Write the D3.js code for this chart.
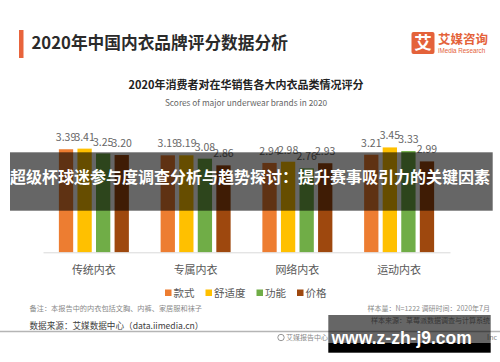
<!DOCTYPE html>
<html>
<head>
<meta charset="utf-8">
<script src="https://cdn.jsdelivr.net/npm/d3@7"></script>
<style>
html,body{margin:0;padding:0;background:#fff;}
svg{display:block;font-family:"Noto Sans CJK SC","Noto Sans",sans-serif;}
</style>
</head>
<body>
<svg id="chart" width="500" height="362"></svg>
<script>
const categories = ["传统内衣", "专属内衣", "网络内衣", "运动内衣"];
const seriesNames = ["款式", "舒适度", "功能", "价格"];
const seriesColors = ["#ed7d31", "#ffc000", "#70ad47", "#9e480e"];
const styleScores   = [3.39, 3.19, 2.94, 3.21];
const comfortScores = [3.41, 3.19, 2.98, 3.45];
const functionScores= [3.25, 3.08, 2.76, 3.33];
const priceScores   = [3.20, 2.86, 2.93, 2.99];
const seriesValues = [styleScores, comfortScores, functionScores, priceScores];

const pageTitle = "2020年中国内衣品牌评分数据分析";
const chartTitle = "2020年消费者对在华销售各大内衣品类情况评分";
const chartSubtitle = "Scores of major underwear brands in 2020";
const bannerText = "超级杯球迷参与度调查分析与趋势探讨：提升赛事吸引力的关键因素";
const noteText = "备注：本报告中的内衣包括文胸、内裤、家居服和袜子";
const sourceText = "数据来源：艾媒数据中心（data.iimedia.cn）";
const sampleText = "样本量：N=1222    调研时间：2020年7月";
const sampleSourceText = "样本来源：草莓派数据调查与计算系统";
const copyrightLeft = "艾媒报告中心";
const copyrightRight = "Inc";
const watermarkText = "www.z-zh-j9.com";

const svg = d3.select("#chart");

// header
svg.append("rect").attr("x", 19).attr("y", 30).attr("width", 4.5).attr("height", 28).attr("fill", "#e8643c");
svg.append("text").attr("x", 31.5).attr("y", 49).attr("font-size", 16.7).attr("font-weight", "bold")
  .attr("fill", "#2b2b2b").text(pageTitle);

// logo
svg.append("rect").attr("x", 411.5).attr("y", 32).attr("width", 23).attr("height", 22).attr("rx", 2).attr("fill", "#e4623a");
svg.append("text").attr("x", 423).attr("y", 49).attr("text-anchor", "middle").attr("font-size", 17.5)
  .attr("font-weight", "bold").attr("fill", "#fff").text("艾");
svg.append("text").attr("x", 438).attr("y", 44).attr("font-size", 12.5).attr("font-weight", "bold")
  .attr("fill", "#e4623a").text("艾媒咨询");
svg.append("text").attr("x", 438).attr("y", 53).attr("font-size", 6.3)
  .attr("fill", "#e4623a").attr("font-family", "Liberation Sans, sans-serif").text("iMedia Research");

// chart titles
svg.append("text").attr("x", 246).attr("y", 89).attr("text-anchor", "middle").attr("font-size", 11)
  .attr("font-weight", "bold").attr("fill", "#222").text(chartTitle);
svg.append("text").attr("x", 246).attr("y", 106).attr("text-anchor", "middle").attr("font-size", 8.3)
  .attr("fill", "#666").text(chartSubtitle);

// scales
const x0 = d3.scaleBand().domain(categories).range([43, 450]).padding(0);
const x1 = d3.scaleBand().domain(seriesNames).range([0, x0.bandwidth()]).paddingInner(0.23).paddingOuter(0.855);
const y = d3.scaleLinear().domain([0, 4]).range([252.3, 252.3 - 121.6]);

const data = [];
categories.forEach((c, i) => {
  seriesNames.forEach((s, j) => {
    data.push({cat: c, ser: s, val: seriesValues[j][i], color: seriesColors[j]});
  });
});

const g = svg.append("g");
g.selectAll("rect.bar").data(data).enter().append("rect").attr("class", "bar")
  .attr("x", d => x0(d.cat) + x1(d.ser))
  .attr("y", d => y(d.val))
  .attr("width", x1.bandwidth())
  .attr("height", d => y(0) - y(d.val))
  .attr("fill", d => d.color);

g.selectAll("text.val").data(data).enter().append("text").attr("class", "val")
  .attr("x", d => x0(d.cat) + x1(d.ser) + x1.bandwidth() / 2)
  .attr("y", d => y(d.val) - 8)
  .attr("text-anchor", "middle")
  .attr("font-size", 10.5)
  .attr("fill", "#666")
  .text(d => d.val.toFixed(2));

// x axis
const xAxis = d3.axisBottom(x0).tickSize(0).tickPadding(14);
const ax = svg.append("g").attr("transform", `translate(0,${y(0)})`).call(xAxis);
ax.select(".domain").attr("stroke", "#d9d9d9").attr("stroke-width", 1);
ax.selectAll("text").attr("font-size", 11).attr("fill", "#595959")
  .attr("font-family", "Noto Sans CJK SC, sans-serif");

// legend
const leg = svg.append("g");
let lx = 165;
seriesNames.forEach((s, j) => {
  leg.append("rect").attr("x", lx).attr("y", 289.5).attr("width", 6.5).attr("height", 6.5).attr("fill", seriesColors[j]);
  const t = leg.append("text").attr("x", lx + 8.5).attr("y", 296.5).attr("font-size", 10.5)
    .attr("fill", "#595959").text(s);
  lx = lx + 8.5 + t.node().getComputedTextLength() + 11;
});

// footer
svg.append("text").attr("x", 29.5).attr("y", 311).attr("font-size", 7.2).attr("fill", "#8a8a8a").text(noteText);
svg.append("text").attr("x", 29.5).attr("y", 328.5).attr("font-size", 8.6).attr("fill", "#404040").text(sourceText);
svg.append("line").attr("x1", 0).attr("x2", 500).attr("y1", 331.5).attr("y2", 331.5)
  .attr("stroke", "#b5b5b5").attr("stroke-width", 1.3);
svg.append("text").attr("x", 490).attr("y", 311).attr("text-anchor", "end").attr("font-size", 7).attr("fill", "#8a8a8a").text(sampleText);
svg.append("text").attr("x", 490).attr("y", 323).attr("text-anchor", "end").attr("font-size", 7).attr("fill", "#8a8a8a").text(sampleSourceText);
svg.append("circle").attr("cx", 281).attr("cy", 337.5).attr("r", 3.2).attr("fill", "none").attr("stroke", "#8a8a8a").attr("stroke-width", 0.9);
svg.append("text").attr("x", 286).attr("y", 340).attr("font-size", 7).attr("fill", "#8a8a8a").text(copyrightLeft);
svg.append("text").attr("x", 497).attr("y", 340).attr("text-anchor", "end").attr("font-size", 7).attr("fill", "#8a8a8a").text(copyrightRight);

// banner overlay
svg.append("rect").attr("x", 10).attr("y", 152.3).attr("width", 482.7).attr("height", 58.4)
  .attr("fill", "#000").attr("fill-opacity", 0.6);
svg.append("text").attr("x", 250).attr("y", 182.5).attr("text-anchor", "middle").attr("font-size", 16)
  .attr("font-weight", "bold").attr("fill", "#fff").text(bannerText);

// watermark
svg.append("rect").attr("x", 328.3).attr("y", 315).attr("width", 162.4).attr("height", 28)
  .attr("fill", "#000").attr("fill-opacity", 0.6);
svg.append("rect").attr("x", 328.3).attr("y", 343).attr("width", 162.4).attr("height", 9.7).attr("fill", "#000");
svg.append("text").attr("x", 331.5).attr("y", 343.5).attr("font-size", 17.5).attr("font-weight", "bold")
  .attr("font-family", "Liberation Sans, Arial, sans-serif").attr("fill", "#fff").text(watermarkText);
</script>
</body>
</html>
